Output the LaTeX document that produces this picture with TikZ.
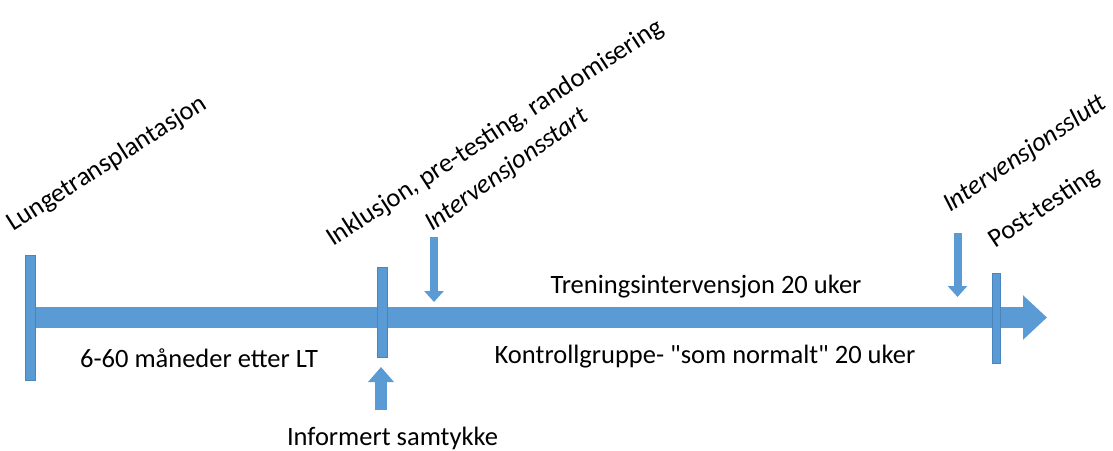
\documentclass[tikz,border=0pt]{standalone}
\usepackage{fontspec}
\setmainfont{Carlito}
\usepackage{tikz}
\usepackage{xcolor}
\usetikzlibrary{arrows.meta}
\definecolor{Blaa}{HTML}{5B9BD5}
\definecolor{BlaaKant}{HTML}{4A86BE}
\tikzset{
Tidslinje/.style={
 draw=Blaa,
 line width=21pt,
 -{Triangle[length=24pt,width=43pt]}
 },
Strek/.style={
 draw=BlaaKant,
 fill=Blaa,
 line width=0.8pt
 },
NedPil/.style={
 draw=Blaa,
 line width=8pt,
 -{Triangle[length=11pt,width=19pt]}
 },
OppPil/.style={
 draw=Blaa,
 line width=12pt,
 -{Triangle[length=15pt,width=25pt]}
 },
Tekst/.style={
 inner sep=0pt,
 font=\fontsize{26.5}{31}\selectfont
 },
SkraaTekst/.style={
 Tekst,
 rotate=#1,
 anchor=base west
 },
SkraaTekst/.default={33}
}

\begin{document}
\begin{tikzpicture}[x=1pt,y=-1pt]
\useasboundingbox (0,0) rectangle (1113,450);
% tidslinje
\coordinate (start) at (25,317.5);
\coordinate (slutt) at (1047,317.5);
\draw[Tidslinje] (start) -- (slutt);
% streker
\filldraw[Strek] (25,255) rectangle (35,380);
\filldraw[Strek] (377,267) rectangle (387,357);
\filldraw[Strek] (992,273) rectangle (1000,363);
% piler
\coordinate (startTopp) at (434,237);
\coordinate (startSpiss) at (434,302);
\coordinate (sluttTopp) at (957.5,233);
\coordinate (sluttSpiss) at (957.5,297);
\coordinate (samtykkeBunn) at (381,410);
\coordinate (samtykkeSpiss) at (381,367);
\draw[NedPil] (startTopp) -- (startSpiss);
\draw[NedPil] (sluttTopp) -- (sluttSpiss);
\draw[OppPil] (samtykkeBunn) -- (samtykkeSpiss);
% tekster
\node[SkraaTekst=32.5] (lunge) at (13,232) {Lungetransplantasjon};
\node[SkraaTekst] (inklusjon) at (333,247) {Inklusjon, pre-testing, randomisering};
\node[SkraaTekst=35.5] (intstart) at (432,232) {\itshape Intervensjonsstart};
\node[SkraaTekst=34] (intslutt) at (950,213) {\itshape Intervensjonsslutt};
\node[SkraaTekst=33.5] (post) at (995,249) {Post-testing};
\node[Tekst,anchor=base] (maaneder) at (199,367) {6-60 måneder etter LT};
\node[Tekst,anchor=base] (samtykke) at (392.5,445) {Informert samtykke};
\node[Tekst,anchor=base] (trening) at (706,293) {Treningsintervensjon 20 uker};
\node[Tekst,anchor=base] (kontroll) at (705,363) {Kontrollgruppe- \textquotedbl som normalt\textquotedbl\ 20 uker};
\end{tikzpicture}
\end{document}
